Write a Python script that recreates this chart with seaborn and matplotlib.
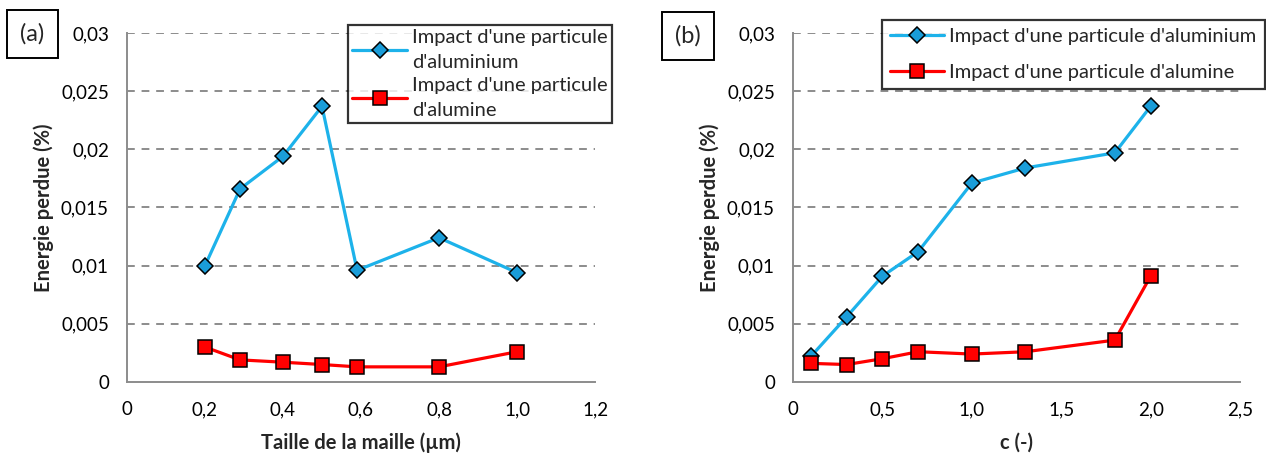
import matplotlib
matplotlib.use("Agg")
import matplotlib.pyplot as plt
import matplotlib.ticker as mticker
import seaborn as sns

# === Data
taille_maille = [0.2, 0.29, 0.4, 0.5, 0.59, 0.8, 1.0]
alu_a = [0.0100, 0.0166, 0.0194, 0.0237, 0.0096, 0.0124, 0.0094]
alumine_a = [0.0030, 0.0019, 0.0017, 0.0015, 0.0013, 0.0013, 0.0026]

c_vals = [0.1, 0.3, 0.5, 0.7, 1.0, 1.3, 1.8, 2.0]
alu_b = [0.0022, 0.0056, 0.0091, 0.0112, 0.0171, 0.0184, 0.0197, 0.0237]
alumine_b = [0.0016, 0.0015, 0.0020, 0.0026, 0.0024, 0.0026, 0.0036, 0.0091]

y_ticks = [0, 0.005, 0.01, 0.015, 0.02, 0.025, 0.03]
x_ticks_a = [0, 0.2, 0.4, 0.6, 0.8, 1.0, 1.2]
x_ticks_b = [0, 0.5, 1.0, 1.5, 2.0, 2.5]

label_alu = "Impact d'une particule d'aluminium"
label_alumine = "Impact d'une particule d'alumine"

BLUE_LINE = "#1DB2EA"
BLUE_FILL = "#1A9DD9"
RED = "#FF0000"
GRID = "#8C8C8C"

sns.set_style("white")
plt.rcParams["font.family"] = ["Lato", "DejaVu Sans"]


def fmt_y(v, pos):
    if v == 0:
        return "0"
    return f"{v:g}".replace(".", ",")


def fmt_x(v, pos):
    if v == 0:
        return "0"
    return f"{v:.1f}".replace(".", ",")


def wrap_label(s):
    head, tail = s.rsplit(" d'", 1)
    return head + "\nd'" + tail


def draw_panel(ax, x, alu, alumine, xticks, xlabel, wrap):
    l1 = wrap_label(label_alu) if wrap else label_alu
    l2 = wrap_label(label_alumine) if wrap else label_alumine
    sns.lineplot(x=x, y=alu, ax=ax, color=BLUE_LINE, linewidth=2.3, marker="D",
                 markersize=8.5, markerfacecolor=BLUE_FILL, markeredgecolor="black",
                 markeredgewidth=1.1, label=l1, zorder=3)
    sns.lineplot(x=x, y=alumine, ax=ax, color=RED, linewidth=2.3, marker="s",
                 markersize=9.5, markerfacecolor=RED, markeredgecolor="black",
                 markeredgewidth=1.1, label=l2, zorder=3)
    ax.set_ylim(0, 0.03)
    ax.set_xlim(xticks[0], xticks[-1])
    ax.set_yticks(y_ticks)
    ax.set_xticks(xticks)
    ax.yaxis.set_major_formatter(mticker.FuncFormatter(fmt_y))
    ax.xaxis.set_major_formatter(mticker.FuncFormatter(fmt_x))
    for yv in y_ticks[1:]:
        ax.axhline(yv, color=GRID, linestyle=(0, (4, 3.5)), linewidth=1.4, zorder=1)
    for side in ["top", "right"]:
        ax.spines[side].set_visible(False)
    for side in ["left", "bottom"]:
        ax.spines[side].set_color(GRID)
        ax.spines[side].set_linewidth(1.4)
    ax.tick_params(axis="both", which="major", direction="out", length=4, width=1.4,
                   color=GRID, labelsize=13.5, labelcolor="black")
    ax.tick_params(axis="y", pad=9)
    ax.tick_params(axis="x", pad=10)
    ax.set_xlabel(xlabel, fontsize=14.5, fontweight="bold", labelpad=10)
    ax.set_ylabel("Energie perdue (%)", fontsize=14.5, fontweight="bold", labelpad=5)
    return ax


fig = plt.figure(figsize=(12.66, 4.59), dpi=100)
ax_a = fig.add_axes([0.1003, 0.1678, 0.3697, 0.7603])
ax_b = fig.add_axes([0.6264, 0.1678, 0.3531, 0.7603])

draw_panel(ax_a, taille_maille, alu_a, alumine_a, x_ticks_a, "Taille de la maille (µm)", True)
draw_panel(ax_b, c_vals, alu_b, alumine_b, x_ticks_b, "c (-)", False)

leg_a = ax_a.legend(loc="upper left", bbox_to_anchor=(348 / 1266, 1 - 25 / 459),
                    bbox_transform=fig.transFigure, fontsize=14.5, frameon=True,
                    fancybox=False, borderpad=0.22, labelspacing=0.3, handlelength=2.7,
                    handletextpad=0.25, borderaxespad=0)
for t in leg_a.get_texts():
    t.set_linespacing(1.55)
leg_b = ax_b.legend(loc="upper left", bbox_to_anchor=(882 / 1266, 1 - 20 / 459),
                    bbox_transform=fig.transFigure, fontsize=14.5, frameon=True,
                    fancybox=False, borderpad=0.4, labelspacing=0.95, handlelength=2.7,
                    handletextpad=0.25, borderaxespad=0)
for leg in (leg_a, leg_b):
    leg.get_frame().set_edgecolor("black")
    leg.get_frame().set_linewidth(1.6)
    leg.set_zorder(5)

fig.text(32.5 / 1266, 1 - 34 / 459, "(a)", fontsize=17, ha="center", va="center",
         bbox=dict(boxstyle="square,pad=0.55", facecolor="white", edgecolor="black", linewidth=1.4))
fig.text(688 / 1266, 1 - 36 / 459, "(b)", fontsize=17, ha="center", va="center",
         bbox=dict(boxstyle="square,pad=0.55", facecolor="white", edgecolor="black", linewidth=1.4))

fig.savefig("out.png", dpi=100)
